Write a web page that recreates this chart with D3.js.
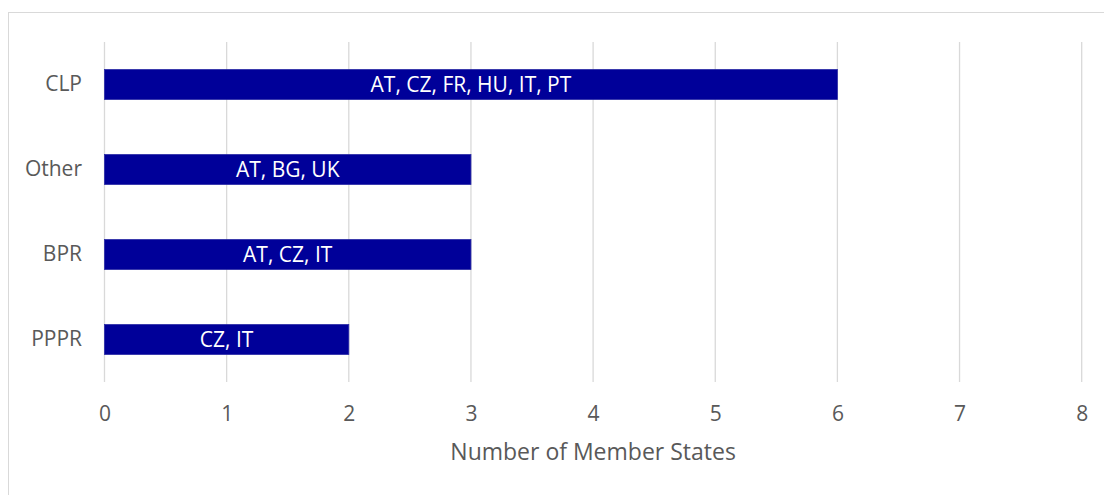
<!DOCTYPE html>
<html>
<head>
<meta charset="utf-8">
<script src="https://cdn.jsdelivr.net/npm/d3@7"></script>
<style>
  html, body { margin: 0; padding: 0; background: #fff; }
  svg { display: block; }
  text { font-family: "Open Sans", sans-serif; }
</style>
</head>
<body>
<svg id="chart" width="1104" height="495"></svg>
<script>
const categories = ["CLP", "Other", "BPR", "PPPR"];
const values = [6, 3, 3, 2];
const barLabels = ["AT, CZ, FR, HU, IT, PT", "AT, BG, UK", "AT, CZ, IT", "CZ, IT"];
const xTicks = [0, 1, 2, 3, 4, 5, 6, 7, 8];
const xTitle = "Number of Member States";

const svg = d3.select("#chart");

// outer chart border
svg.append("rect")
  .attr("x", 8.5).attr("y", 12.5)
  .attr("width", 1120).attr("height", 520)
  .attr("fill", "#fff").attr("stroke", "#d9d9d9").attr("stroke-width", 1);

const x = d3.scaleLinear().domain([0, 8]).range([104.5, 1081.7]);
const y = d3.scaleBand().domain(categories).range([42, 382])
  .paddingInner(0.647).paddingOuter(0.3235);

// gridlines
svg.append("g").selectAll("line").data(xTicks).join("line")
  .attr("x1", d => x(d)).attr("x2", d => x(d))
  .attr("y1", 42).attr("y2", 382)
  .attr("stroke", "#d9d9d9").attr("stroke-width", 1.3);

// x axis tick labels
const xAxis = d3.axisBottom(x).tickValues(xTicks).tickSize(0).tickPadding(0).tickFormat(d3.format("d"));
const gx = svg.append("g").attr("transform", "translate(0,420.5)").call(xAxis);
gx.select(".domain").remove();
gx.selectAll("text").attr("font-size", 21).attr("fill", "#595959")
  .attr("font-family", "'Open Sans', sans-serif").attr("dy", 0).attr("y", 0);

// y axis category labels
const yAxis = d3.axisLeft(y).tickSize(0).tickPadding(0);
const gy = svg.append("g").attr("transform", "translate(82,0)").call(yAxis);
gy.select(".domain").remove();
gy.selectAll("text").attr("font-size", 21).attr("fill", "#595959")
  .attr("font-family", "'Open Sans', sans-serif");

// bars
const rows = categories.map((c, i) => ({ c, v: values[i], label: barLabels[i] }));
svg.append("g").selectAll("rect").data(rows).join("rect")
  .attr("x", x(0)).attr("y", d => y(d.c))
  .attr("width", d => x(d.v) - x(0)).attr("height", y.bandwidth())
  .attr("fill", "#000099").attr("stroke", "#2b2ba6").attr("stroke-width", 0.8);

// bar labels
svg.append("g").selectAll("text").data(rows).join("text")
  .attr("x", d => (x(0) + x(d.v)) / 2)
  .attr("y", d => y(d.c) + y.bandwidth() / 2)
  .attr("dy", "0.36em")
  .attr("text-anchor", "middle")
  .attr("font-size", 21).attr("fill", "#fff")
  .text(d => d.label);

// axis title
svg.append("text")
  .attr("x", (x(0) + x(8)) / 2).attr("y", 460)
  .attr("text-anchor", "middle")
  .attr("font-size", 23).attr("fill", "#595959")
  .text(xTitle);
</script>
</body>
</html>
